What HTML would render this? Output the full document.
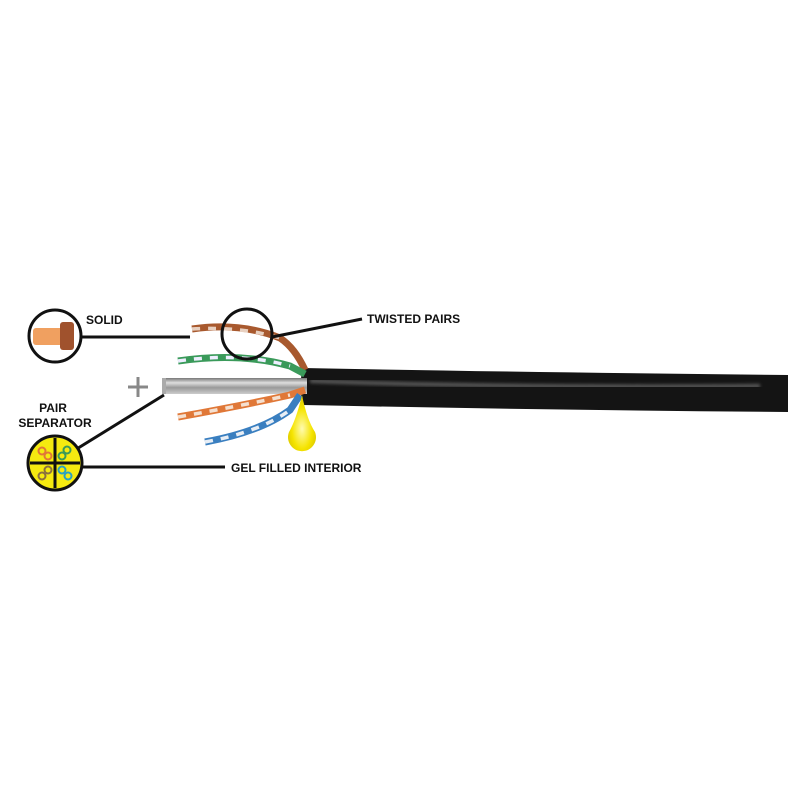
<!DOCTYPE html>
<html><head><style>
html,body{margin:0;padding:0;background:#fff;width:800px;height:800px;overflow:hidden}
text{font-family:"Liberation Sans",sans-serif;font-weight:bold;fill:#111;font-size:12px}
</style></head><body>
<svg width="800" height="800" viewBox="0 0 800 800">
<defs>
<linearGradient id="sep" x1="0" y1="0" x2="0" y2="1">
<stop offset="0" stop-color="#777"/><stop offset="0.3" stop-color="#ddd"/><stop offset="0.6" stop-color="#999"/><stop offset="1" stop-color="#ccc"/></linearGradient>
<radialGradient id="drop" cx="0.5" cy="0.6" r="0.6"><stop offset="0" stop-color="#fffbb0"/><stop offset="0.6" stop-color="#f5e400"/><stop offset="1" stop-color="#d8c400"/></radialGradient>
<filter id="bl"><feGaussianBlur stdDeviation="1.5"/></filter>
</defs>
<path d="M303,368 Q500,372 788,375 L788,412 Q540,410 303,405 Q298,386 303,368Z" fill="#141414"/>
<path d="M310,381 Q500,388 760,386" stroke="#777" stroke-width="4" fill="none" opacity="0.7" filter="url(#bl)"/>
<rect x="162" y="378" width="145" height="16" fill="url(#sep)"/>
<rect x="162" y="378" width="4" height="16" fill="#aaa"/>
<path d="M192,329 Q240,322 280,338 Q295,348 305,370" stroke="#a8592e" stroke-width="7" fill="none"/>
<path d="M192,329 Q240,326 280,338" stroke="#e8d0c0" stroke-width="3.5" fill="none" stroke-dasharray="8,8"/>
<path d="M178,361 Q240,352 290,366 L305,374" stroke="#3a9a5a" stroke-width="7" fill="none"/>
<path d="M178,361 Q240,352 290,366" stroke="#eef" stroke-width="3.5" fill="none" stroke-dasharray="8,8"/>
<path d="M178,417 Q240,406 290,395 L305,390" stroke="#e07838" stroke-width="7" fill="none"/>
<path d="M178,417 Q240,406 290,395" stroke="#f5e0d0" stroke-width="3.5" fill="none" stroke-dasharray="8,8"/>
<path d="M205,442 Q260,432 290,410 L300,395" stroke="#3a7fc0" stroke-width="7" fill="none"/>
<path d="M205,442 Q260,432 290,410" stroke="#e8eef5" stroke-width="3.5" fill="none" stroke-dasharray="8,8"/>
<path d="M302,395 Q296,420 289,432 A14,14 0 1,0 315,432 Q307,420 302,395Z" fill="url(#drop)"/>
<path d="M128,387 H148 M138,377 V397" stroke="#888" stroke-width="3"/>
<line x1="80" y1="337" x2="190" y2="337" stroke="#111" stroke-width="3"/>
<line x1="272" y1="337" x2="362" y2="319" stroke="#111" stroke-width="3"/>
<line x1="75" y1="450" x2="164" y2="395" stroke="#111" stroke-width="3"/>
<line x1="82" y1="467" x2="225" y2="467" stroke="#111" stroke-width="3"/>
<circle cx="55" cy="336" r="26" fill="#fff" stroke="#111" stroke-width="3"/>
<rect x="33" y="328" width="34" height="17" rx="3" fill="#f0a060"/>
<rect x="60" y="322" width="14" height="28" rx="3" fill="#a0522d"/>
<circle cx="247" cy="334" r="25" fill="none" stroke="#111" stroke-width="3"/>
<circle cx="55" cy="463" r="27" fill="#f5ea10" stroke="#111" stroke-width="3"/>
<path d="M30,463 H80 M55,438 V488" stroke="#111" stroke-width="3"/>
<g fill="none" stroke-width="2">
<circle cx="42" cy="451" r="3.5" stroke="#e07838"/><circle cx="48" cy="456" r="3.5" stroke="#e07838"/>
<circle cx="67" cy="450" r="3.5" stroke="#3a9a5a"/><circle cx="62" cy="456" r="3.5" stroke="#3a9a5a"/>
<circle cx="48" cy="470" r="3.5" stroke="#8a7040"/><circle cx="42" cy="476" r="3.5" stroke="#8a7040"/>
<circle cx="62" cy="470" r="3.5" stroke="#2aa0c0"/><circle cx="68" cy="476" r="3.5" stroke="#2aa0c0"/>
</g>
<text x="86" y="324">SOLID</text>
<text x="367" y="323">TWISTED PAIRS</text>
<text x="53" y="412" text-anchor="middle">PAIR</text>
<text x="55" y="427" text-anchor="middle">SEPARATOR</text>
<text x="231" y="472">GEL FILLED INTERIOR</text>
</svg>
</body></html>
